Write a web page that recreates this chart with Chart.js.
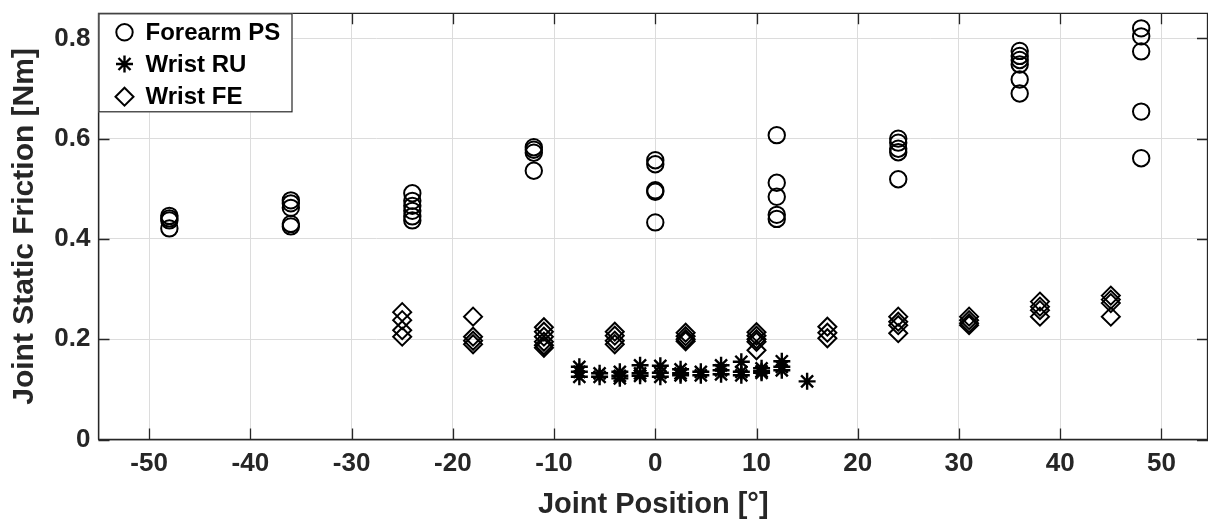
<!DOCTYPE html>
<html>
<head>
<meta charset="utf-8">
<script src="https://cdn.jsdelivr.net/npm/chart.js@4/dist/chart.umd.min.js"></script>
<style>
  html, body { margin: 0; padding: 0; background: #fff; }
  #c { display: block; }
</style>
</head>
<body>
<canvas id="c" width="1208" height="519"></canvas>
<script>
// ---- data ----
const seriesNames = ['Forearm PS', 'Wrist RU', 'Wrist FE'];

const psAngles = [-48, -36, -24, -12, 0, 12, 24, 36, 48];
const psFriction = [
  [0.446, 0.441, 0.437, 0.421],
  [0.477, 0.471, 0.462, 0.430, 0.425],
  [0.491, 0.476, 0.466, 0.456, 0.445, 0.437],
  [0.583, 0.578, 0.572, 0.536],
  [0.557, 0.549, 0.497, 0.494, 0.433],
  [0.607, 0.512, 0.484, 0.448, 0.440],
  [0.600, 0.592, 0.580, 0.573, 0.519],
  [0.775, 0.765, 0.757, 0.748, 0.718, 0.690],
  [0.820, 0.804, 0.774, 0.654, 0.561]
];

const ruAngles = [-7.5, -5.5, -3.5, -1.5, 0.5, 2.5, 4.5, 6.5, 8.5, 10.5, 12.5, 15];
const ruFriction = [
  [0.145, 0.135, 0.125],
  [0.132, 0.125],
  [0.135, 0.127, 0.122],
  [0.148, 0.132, 0.127],
  [0.147, 0.133, 0.125],
  [0.140, 0.132, 0.128],
  [0.135, 0.128],
  [0.148, 0.138, 0.130],
  [0.155, 0.135, 0.128],
  [0.142, 0.136, 0.133],
  [0.156, 0.145, 0.138],
  [0.116]
];

const feAngles = [-25, -18, -11, -4, 3, 10, 17, 24, 31, 38, 45];
const feFriction = [
  [0.254, 0.238, 0.218, 0.205],
  [0.245, 0.205, 0.197, 0.190],
  [0.224, 0.215, 0.205, 0.195, 0.188, 0.183],
  [0.215, 0.207, 0.197, 0.190],
  [0.213, 0.206, 0.200, 0.196],
  [0.214, 0.207, 0.200, 0.195, 0.178],
  [0.225, 0.213, 0.202],
  [0.245, 0.235, 0.228, 0.212],
  [0.245, 0.238, 0.232, 0.228],
  [0.275, 0.265, 0.258, 0.245],
  [0.287, 0.279, 0.272, 0.245]
];

const xTicks = [-50, -40, -30, -20, -10, 0, 10, 20, 30, 40, 50];
const xTickLabels = ['-50', '-40', '-30', '-20', '-10', '0', '10', '20', '30', '40', '50'];
const yTicks = [0, 0.2, 0.4, 0.6, 0.8];
const yTickLabels = ['0', '0.2', '0.4', '0.6', '0.8'];
const xTitle = 'Joint Position [°]';
const yTitle = 'Joint Static Friction [Nm]';

// ---- build points ----
function toPoints(angles, values) {
  const out = [];
  angles.forEach((a, i) => values[i].forEach(v => out.push({ x: a, y: v })));
  return out;
}

const FONT = "'Liberation Sans', Arial, Helvetica, sans-serif";
const AX = '#262626';

const styles = [
  { pointStyle: 'circle', radius: 8.2, borderWidth: 2 },
  { pointStyle: 'star', radius: 8.5, borderWidth: 2.4 },
  { pointStyle: 'rectRot', radius: 9, borderWidth: 2 }
];

const datasets = [
  { label: seriesNames[0], data: toPoints(psAngles, psFriction) },
  { label: seriesNames[1], data: toPoints(ruAngles, ruFriction) },
  { label: seriesNames[2], data: toPoints(feAngles, feFriction) }
].map((d, i) => Object.assign(d, {
  pointStyle: styles[i].pointStyle,
  pointRadius: styles[i].radius,
  pointHoverRadius: styles[i].radius,
  pointBorderWidth: styles[i].borderWidth,
  borderColor: '#000',
  pointBorderColor: '#000',
  backgroundColor: 'rgba(0,0,0,0)',
  pointBackgroundColor: 'rgba(0,0,0,0)',
  showLine: false
}));

function drawMarker(ctx, st, x, y) {
  if (Chart.helpers && Chart.helpers.drawPoint) {
    Chart.helpers.drawPoint(ctx, { pointStyle: st.pointStyle, radius: st.radius, borderWidth: st.borderWidth, rotation: 0 }, x, y);
    return;
  }
  const r = st.radius;
  ctx.beginPath();
  if (st.pointStyle === 'circle') {
    ctx.arc(x, y, r, 0, Math.PI * 2);
  } else if (st.pointStyle === 'rectRot') {
    ctx.moveTo(x, y - r); ctx.lineTo(x + r, y); ctx.lineTo(x, y + r); ctx.lineTo(x - r, y); ctx.closePath();
  } else {
    const d = r * Math.SQRT1_2;
    ctx.moveTo(x - r, y); ctx.lineTo(x + r, y);
    ctx.moveTo(x, y - r); ctx.lineTo(x, y + r);
    ctx.moveTo(x - d, y - d); ctx.lineTo(x + d, y + d);
    ctx.moveTo(x - d, y + d); ctx.lineTo(x + d, y - d);
  }
  ctx.stroke();
}

const axesBox = {
  id: 'axesBox',
  afterDatasetsDraw(chart) {
    const { ctx, chartArea: a, scales: { x, y } } = chart;
    const tl = 11;
    ctx.save();
    ctx.strokeStyle = AX;
    ctx.lineWidth = 1.3;
    ctx.beginPath();
    ctx.moveTo(a.left, a.bottom); ctx.lineTo(a.left, a.top); ctx.lineTo(a.right - 0.5, a.top); ctx.lineTo(a.right - 0.5, a.bottom); ctx.lineTo(a.left, a.bottom);
    x.ticks.forEach(t => {
      const px = Math.round(x.getPixelForValue(t.value)) + 0.5;
      ctx.moveTo(px, a.bottom); ctx.lineTo(px, a.bottom - tl);
      ctx.moveTo(px, a.top); ctx.lineTo(px, a.top + tl);
    });
    y.ticks.forEach(t => {
      const py = Math.round(y.getPixelForValue(t.value)) + 0.5;
      ctx.moveTo(a.left, py); ctx.lineTo(a.left + tl, py);
      ctx.moveTo(a.right, py); ctx.lineTo(a.right - tl, py);
    });
    ctx.stroke();

    // legend box in the upper-left corner
    const bx = a.left, by = a.top, bw = 194, bh = 99;
    ctx.fillStyle = '#fff';
    ctx.fillRect(bx, by, bw, bh);
    ctx.strokeStyle = AX;
    ctx.lineWidth = 1.2;
    ctx.strokeRect(bx + 0.5, by + 0.5, bw - 1, bh - 1);
    const rows = [19, 50.7, 83.4];
    chart.data.datasets.forEach((ds, i) => {
      const cy = by + rows[i];
      ctx.save();
      ctx.strokeStyle = '#000';
      ctx.fillStyle = 'rgba(0,0,0,0)';
      ctx.lineWidth = styles[i].borderWidth;
      drawMarker(ctx, styles[i], bx + 26, cy);
      ctx.restore();
      ctx.fillStyle = '#000';
      ctx.font = 'bold 24px ' + FONT;
      ctx.textBaseline = 'middle';
      ctx.textAlign = 'left';
      ctx.fillText(ds.label, bx + 47, cy + 1);
    });
    ctx.restore();
  }
};

new Chart(document.getElementById('c'), {
  type: 'scatter',
  data: { datasets },
  options: {
    responsive: false,
    animation: false,
    events: [],
    layout: { autoPadding: false, padding: { top: 13.3, right: 0, left: 0, bottom: 0 } },
    plugins: { legend: { display: false }, tooltip: { enabled: false } },
    scales: {
      x: {
        type: 'linear',
        min: -55,
        max: 54.6,
        afterBuildTicks: s => { s.ticks = xTicks.map(v => ({ value: v })); },
        afterFit: s => { s.height = 79.5; s.paddingLeft = 0; s.paddingRight = 0; },
        grid: { color: '#dcdcdc', lineWidth: 1, drawTicks: false },
        border: { display: true, color: AX, width: 1.3 },
        ticks: {
          padding: 9,
          color: AX,
          font: { family: FONT, size: 26, weight: 'bold' },
          callback: v => xTickLabels[xTicks.indexOf(v)] ?? ''
        },
        title: {
          display: true,
          text: xTitle,
          color: AX,
          font: { family: FONT, size: 29, weight: 'bold', lineHeight: 1 },
          padding: { top: 0, bottom: 0 }
        }
      },
      y: {
        type: 'linear',
        min: 0,
        max: 0.85,
        afterBuildTicks: s => { s.ticks = yTicks.map(v => ({ value: v })); },
        afterFit: s => { s.width = 98.5; s.paddingTop = 0; s.paddingBottom = 0; },
        grid: { color: '#dcdcdc', lineWidth: 1, drawTicks: false },
        border: { display: true, color: AX, width: 1.3 },
        ticks: {
          padding: 8,
          color: AX,
          font: { family: FONT, size: 26, weight: 'bold' },
          callback: v => { const i = yTicks.findIndex(t => Math.abs(t - v) < 1e-9); return i >= 0 ? yTickLabels[i] : ''; }
        },
        title: {
          display: true,
          text: yTitle,
          color: AX,
          font: { family: FONT, size: 30, weight: 'bold', lineHeight: 1 },
          padding: { top: 9.5, bottom: 0 }
        }
      }
    }
  },
  plugins: [axesBox]
});
</script>
</body>
</html>
